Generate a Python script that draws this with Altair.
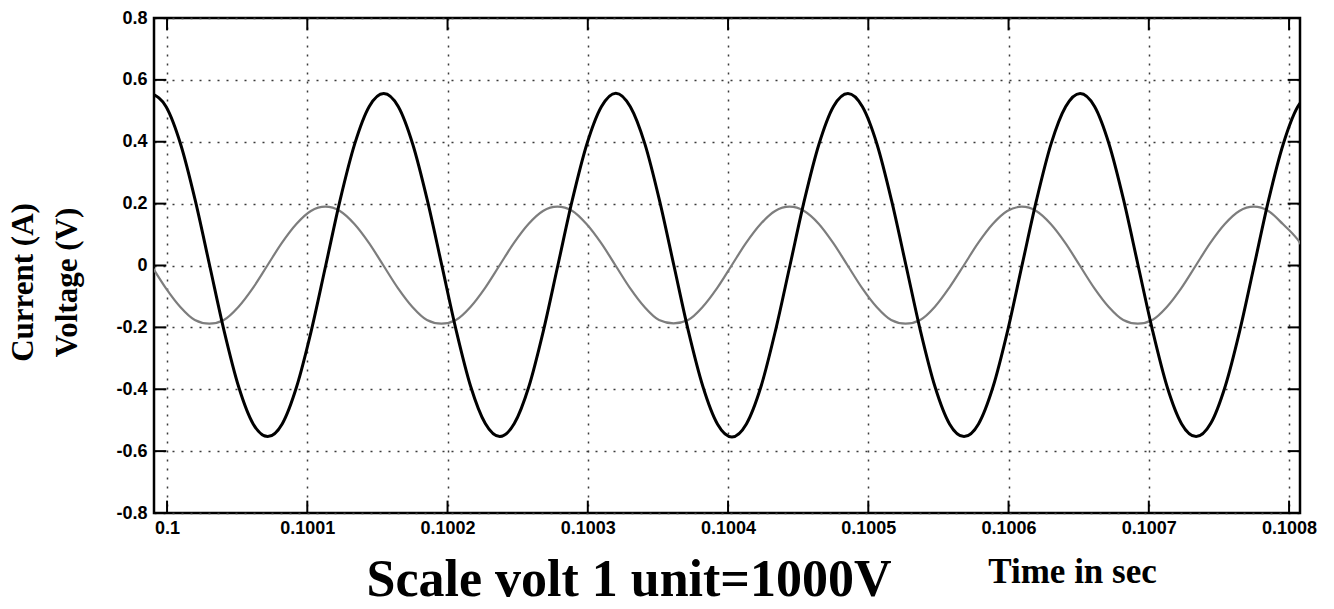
import altair as alt
import pandas as pd

# ---- data (time in microseconds after 0.1 s) ----
voltage_time_us = [
    -11.0, -0.66, 9.69, 20.03, 30.38, 40.72, 51.06, 61.41, 71.75, 82.09, 92.44, 102.78, 113.13, 123.47, 133.81, 144.16,
    154.5, 164.84, 175.19, 185.53, 195.88, 206.22, 216.56, 226.91, 237.25, 247.59, 257.94, 268.28, 278.63, 288.97, 299.31, 309.66,
    320.0, 330.34, 340.69, 351.03, 361.38, 371.72, 382.06, 392.41, 402.75, 413.09, 423.44, 433.78, 444.13, 454.47, 464.81, 475.16,
    485.5, 495.84, 506.19, 516.53, 526.88, 537.22, 547.56, 557.91, 568.25, 578.59, 588.94, 599.28, 609.63, 619.97, 630.31, 640.66,
    651.0, 661.34, 671.69, 682.03, 692.38, 702.72, 713.06, 723.41, 733.75, 744.09, 754.44, 764.78, 775.13, 785.47, 795.81, 806.16,
    816.5,
]
voltage_values = [
    0.556, 0.513, 0.392, 0.212, 0.0, -0.212, -0.392, -0.512, -0.553, -0.512, -0.391, -0.212, 0.0, 0.213, 0.393, 0.514,
    0.556, 0.514, 0.392, 0.212, 0.001, -0.211, -0.392, -0.511, -0.553, -0.511, -0.392, -0.212, 0.0, 0.212, 0.392, 0.513,
    0.557, 0.513, 0.393, 0.212, 0.0, -0.212, -0.391, -0.512, -0.554, -0.512, -0.392, -0.211, 0.0, 0.212, 0.392, 0.514,
    0.556, 0.513, 0.392, 0.211, 0.0, -0.212, -0.392, -0.512, -0.553, -0.512, -0.392, -0.212, 0.001, 0.212, 0.393, 0.513,
    0.556, 0.514, 0.392, 0.212, 0.0, -0.211, -0.392, -0.512, -0.553, -0.511, -0.391, -0.212, 0.0, 0.213, 0.392, 0.513,
    0.556,
]
current_time_us = [
    -21.57, -11.23, -0.88, 9.46, 19.81, 30.15, 40.49, 50.84, 61.18, 71.53, 81.87, 92.21, 102.56,
    112.9, 123.24, 133.59, 143.93, 154.28, 164.62, 174.96, 185.31, 195.65, 205.99, 216.34, 226.68, 237.03, 247.37, 257.71, 268.06,
    278.4, 288.74, 299.09, 309.43, 319.78, 330.12, 340.46, 350.81, 361.15, 371.49, 381.84, 392.18, 402.53, 412.87, 423.21, 433.56,
    443.9, 454.24, 464.59, 474.93, 485.28, 495.62, 505.96, 516.31, 526.65, 536.99, 547.34, 557.68, 568.03, 578.37, 588.71, 599.06,
    609.4, 619.74, 630.09, 640.43, 650.78, 661.12, 671.46, 681.81, 692.15, 702.49, 712.84, 723.18, 733.53, 743.87, 754.21, 764.56,
    774.9, 785.24, 795.59, 805.93, 816.28,
]
current_values = [
    0.073, 0.0, -0.073, -0.134, -0.176, -0.188, -0.176, -0.134, -0.073, 0.0, 0.073, 0.134, 0.176,
    0.19, 0.176, 0.134, 0.073, 0.0, -0.073, -0.134, -0.176, -0.188, -0.176, -0.134, -0.073, 0.0, 0.073, 0.134, 0.176,
    0.19, 0.177, 0.134, 0.073, 0.0, -0.073, -0.134, -0.176, -0.187, -0.176, -0.134, -0.073, 0.0, 0.073, 0.134, 0.176,
    0.19, 0.176, 0.135, 0.073, 0.0, -0.073, -0.134, -0.176, -0.188, -0.176, -0.134, -0.072, 0.0, 0.073, 0.134, 0.176,
    0.19, 0.176, 0.134, 0.073, 0.0, -0.073, -0.134, -0.176, -0.188, -0.176, -0.134, -0.073, 0.0, 0.073, 0.134, 0.176,
    0.19, 0.176, 0.134, 0.085, 0.01,
]
x_tick_values = [0.1, 0.1001, 0.1002, 0.1003, 0.1004, 0.1005, 0.1006, 0.1007, 0.1008]
y_tick_values = [-0.8, -0.6, -0.4, -0.2, 0, 0.2, 0.4, 0.6, 0.8]
x_domain = [0.0999907, 0.1008078]
y_domain = [-0.8, 0.8]
x_title = "Time in sec"
y_title = ["Current (A)", "Voltage (V)"]
scale_note = "Scale volt 1 unit=1000V"

# ---- tables ----
volt_df = pd.DataFrame({"t": [0.1 + u * 1e-6 for u in voltage_time_us], "v": voltage_values})
curr_df = pd.DataFrame({"t": [0.1 + u * 1e-6 for u in current_time_us], "v": current_values})

tick_len_y = 0.04
tick_len_x = 0.0000088
vticks = pd.DataFrame(
    {"t": x_tick_values * 2,
     "v": [y_domain[0]] * len(x_tick_values) + [y_domain[1]] * len(x_tick_values),
     "v2": [y_domain[0] + tick_len_y] * len(x_tick_values) + [y_domain[1] - tick_len_y] * len(x_tick_values)}
)
hticks = pd.DataFrame(
    {"v": y_tick_values * 2,
     "t": [x_domain[0]] * len(y_tick_values) + [x_domain[1]] * len(y_tick_values),
     "t2": [x_domain[0] + tick_len_x] * len(y_tick_values) + [x_domain[1] - tick_len_x] * len(y_tick_values)}
)
note_df = pd.DataFrame({"label": [scale_note]})

x_scale = alt.Scale(domain=x_domain, nice=False, zero=False)
y_scale = alt.Scale(domain=y_domain, nice=False, zero=False)

grid_style = dict(grid=True, gridDash=[2, 7], gridColor="#3a3a3a", gridWidth=1.5,
                  ticks=False, domain=False, labelFont="Liberation Sans", labelFontWeight="bold",
                  labelFontSize=18, labelColor="black", labelFlush=False, labelOverlap=False,
                  labelExpr="toString(datum.value)")

x_axis = alt.Axis(values=x_tick_values, labelPadding=6, title=x_title,
                  titleFont="Liberation Serif", titleFontSize=35, titleFontWeight="bold",
                  titleColor="black", titleX=918, titleY=69, titleAlign="center",
                  titleBaseline="alphabetic", **grid_style)
y_axis = alt.Axis(values=y_tick_values, labelPadding=7, title=y_title,
                  titleFont="Liberation Serif", titleFontSize=31, titleFontWeight="bold",
                  titleColor="black", titleAngle=270, titleX=-122, titleY=264,
                  titleAlign="center", titleBaseline="alphabetic", titleLineHeight=44,
                  **grid_style)

X = alt.X("t:Q", scale=x_scale, axis=x_axis)
Y = alt.Y("v:Q", scale=y_scale, axis=y_axis)

current_line = alt.Chart(curr_df).mark_line(
    color="#7d7d7d", strokeWidth=2.2, interpolate="monotone", clip=True
).encode(x=X, y=Y)

voltage_line = alt.Chart(volt_df).mark_line(
    color="black", strokeWidth=3, interpolate="monotone", clip=True
).encode(x=X, y=Y)

vtick_layer = alt.Chart(vticks).mark_rule(color="black", strokeWidth=2).encode(
    x=X, y=Y, y2="v2:Q",
)
htick_layer = alt.Chart(hticks).mark_rule(color="black", strokeWidth=2).encode(
    x=X, x2="t2:Q", y=Y,
)

note = alt.Chart(note_df).mark_text(
    font="Liberation Serif", fontSize=52, fontWeight="bold", align="center",
    baseline="alphabetic", color="black"
).encode(x=alt.value(475), y=alt.value(578), text="label:N")

chart = alt.layer(current_line, voltage_line, vtick_layer, htick_layer, note).properties(
    width=1146, height=495,
    padding={"left": 154, "top": 18, "right": 34, "bottom": 96},
    autosize=alt.AutoSizeParams(type="none"),
    background="white",
).configure_view(stroke="black", strokeWidth=2.5)

chart.save("out.html", embed_options={"renderer": "svg", "actions": False})
